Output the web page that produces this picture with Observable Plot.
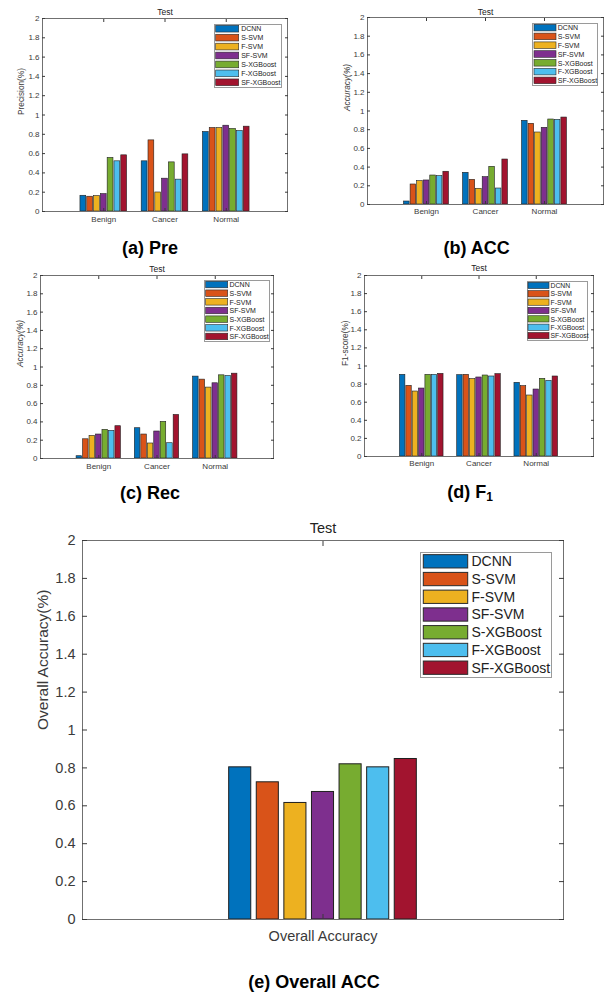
<!DOCTYPE html>
<html><head><meta charset="utf-8">
<script src="https://cdn.jsdelivr.net/npm/d3@7"></script>
<script src="https://cdn.jsdelivr.net/npm/@observablehq/plot@0.6"></script>
<style>
body{margin:0;background:#fff;}
#fig{position:relative;width:606px;height:994px;font-family:"Liberation Sans",Arial,sans-serif;background:#fff;}
#fig svg{position:absolute;}
.cap{position:absolute;font-weight:bold;font-size:18px;transform:translate(-50%,-50%);white-space:nowrap;color:#000;line-height:1;}
.cap sub{font-size:12px;vertical-align:-3px;}
</style></head><body><div id="fig"></div>
<script>
// ---- data ----
const models = ["DCNN","S-SVM","F-SVM","SF-SVM","S-XGBoost","F-XGBoost","SF-XGBoost"];
const modelColors = ["#0072BD","#D95319","#EDB120","#7E2F8E","#77AC30","#4DBEEE","#A2142F"];
const classes = ["Benign","Cancer","Normal"];
const overallCategory = ["Overall Accuracy"];
const yTicks = [0,0.2,0.4,0.6,0.8,1,1.2,1.4,1.6,1.8,2];
// rows: Benign, Cancer, Normal; columns: models
const precision = [
  [0.163,0.153,0.160,0.180,0.555,0.520,0.582],
  [0.520,0.737,0.197,0.340,0.509,0.330,0.592],
  [0.824,0.865,0.865,0.889,0.855,0.834,0.879]];
const accuracy = [
  [0.032,0.214,0.250,0.257,0.310,0.303,0.350],
  [0.339,0.264,0.168,0.292,0.403,0.171,0.481],
  [0.895,0.863,0.770,0.820,0.909,0.905,0.930]];
const recall = [
  [0.025,0.210,0.247,0.262,0.313,0.302,0.353],
  [0.331,0.262,0.164,0.295,0.400,0.167,0.476],
  [0.895,0.862,0.775,0.822,0.909,0.902,0.927]];
const f1score = [
  [0.902,0.781,0.718,0.751,0.902,0.902,0.913],
  [0.899,0.902,0.855,0.873,0.895,0.884,0.910],
  [0.814,0.777,0.674,0.740,0.858,0.836,0.884]];
const overall = [0.803,0.724,0.615,0.673,0.819,0.803,0.847];

// ---- drawing ----
const FONT = '"Liberation Sans", Arial, Helvetica, sans-serif';
const fig = document.getElementById("fig");
const key = (c, m) => c + "|" + m;

function panel(o) {
  const cats = o.cats;
  const domain = cats.flatMap((c, i) => [...(i ? ["gap" + i + "a", "gap" + i + "b"] : []), ...models.map(m => key(c, m))]);
  const rows = o.values.flatMap((arr, ci) => arr.map((v, mi) => ({key: key(cats[ci], models[mi]), model: models[mi], value: v})));
  const tickKeys = cats.map(c => key(c, models[3]));
  const svg = Plot.plot({
    width: o.w, height: o.h,
    marginLeft: o.mL, marginRight: o.mR, marginTop: o.mT, marginBottom: o.mB,
    style: {fontFamily: FONT, fontSize: o.fs + "px", color: "#3a3a3a", background: "transparent", overflow: "visible"},
    x: {type: "band", domain, paddingInner: o.pi, paddingOuter: o.po, round: false},
    y: {domain: [0, 2]},
    color: {domain: models, range: modelColors},
    marks: [
      Plot.barY(rows, {x: "key", y: "value", fill: "model", stroke: "#1f1f1f", strokeWidth: o.sw}),
      Plot.ruleY([0], {stroke: "#262626"}),
      Plot.frame({stroke: "#707070"}),
      Plot.axisY({anchor: "left", ticks: yTicks, tickFormat: d3.format("~g"), tickSize: o.ts, dx: o.ts, tickPadding: o.tp, label: null}),
      Plot.axisY({anchor: "right", ticks: yTicks, tickFormat: () => "", tickSize: o.ts, dx: -o.ts, label: null}),
      Plot.axisX({anchor: "bottom", ticks: tickKeys, tickFormat: k => k.split("|")[0], tickSize: o.ts, dy: -o.ts, tickPadding: o.xtp, label: null}),
      Plot.axisX({anchor: "top", ticks: tickKeys, tickFormat: () => "", tickSize: o.ts, dy: o.ts, label: null}),
      Plot.text(["Test"], {frameAnchor: "top", lineAnchor: "middle", text: d => d, dy: o.titleDy, fontSize: o.titleFs, fill: "#222"}),
      Plot.text([o.ylabel], {frameAnchor: "left", lineAnchor: "middle", text: d => d, rotate: -90, dx: o.ylDx, fontSize: o.ylFs, fontStyle: o.ylStyle || "normal"})
    ]
  });
  svg.style.left = o.left + "px";
  svg.style.top = o.top + "px";
  fig.appendChild(svg);
}

function legend(o) {
  const svg = Plot.plot({
    width: o.w, height: o.h, margin: 0,
    style: {fontFamily: FONT, fontSize: o.fs + "px", color: "#222", background: "transparent", overflow: "visible"},
    y: {type: "band", domain: models, paddingInner: 0.25, paddingOuter: 0.15, round: false, axis: null},
    color: {domain: models, range: modelColors},
    marks: [
      Plot.frame({fill: "white", stroke: "#9a9a9a"}),
      Plot.cell(models, {y: d => d, fill: d => d, stroke: "#2a2a2a", strokeWidth: o.sw, insetLeft: o.sl, insetRight: o.w - o.sl - o.swid}),
      Plot.text(models, {y: d => d, text: d => d, frameAnchor: "left", textAnchor: "start", dx: o.tx, fill: "#222"})
    ]
  });
  svg.style.left = o.left + "px";
  svg.style.top = o.top + "px";
  fig.appendChild(svg);
}

const small = {cats: classes, pi: 0.15, po: 5.575, fs: 8, ts: 3, tp: 3, sw: 0.6, titleFs: 8.5, ylFs: 8.3};
panel({...small, values: precision, ylabel: "Precision(%)", left: 0, top: 0, w: 300, h: 232, mL: 42, mR: 13, mT: 18, mB: 21, xtp: 5, titleDy: -6.3, ylDx: -21.3});
panel({...small, values: accuracy, ylabel: "Accuracy(%)", ylStyle: "italic", left: 300, top: 0, w: 306, h: 228, mL: 67, mR: 3, mT: 17, mB: 24, xtp: 4, titleDy: -5.3, ylDx: -20.3});
panel({...small, values: recall, ylabel: "Accuracy(%)", ylStyle: "italic", left: 0, top: 255, w: 300, h: 225, mL: 40, mR: 27, mT: 20, mB: 22, xtp: 4.5, titleDy: -6, ylDx: -20});
panel({...small, values: f1score, ylabel: "F1-score(%)", left: 300, top: 255, w: 306, h: 225, mL: 64, mR: 13, mT: 20, mB: 24, xtp: 4, titleDy: -7, ylDx: -19});
panel({cats: overallCategory, values: [overall], ylabel: "Overall Accuracy(%)", pi: 0.2, po: 5.315, fs: 14.5, ts: 5, tp: 7, sw: 1, titleFs: 14.5, ylFs: 15.5,
  left: 0, top: 510, w: 606, h: 440, mL: 82, mR: 43, mT: 30, mB: 31, xtp: 11, titleDy: -12, ylDx: -39});

legend({left: 214, top: 24, w: 67, h: 63, fs: 7, sw: 0.6, sl: 1.7, swid: 23, tx: 26.7});
legend({left: 532, top: 23, w: 65, h: 62, fs: 7, sw: 0.6, sl: 2, swid: 22, tx: 25.3});
legend({left: 204, top: 280, w: 65, h: 61, fs: 7, sw: 0.6, sl: 1.7, swid: 22, tx: 25});
legend({left: 527, top: 281, w: 60, h: 59, fs: 6.8, sw: 0.6, sl: 1, swid: 21, tx: 23});
legend({left: 420, top: 552, w: 131, h: 125, fs: 14, sw: 1, sl: 3.3, swid: 44.4, tx: 51});

const captions = [
  {html: "(a) Pre", x: 150, y: 248},
  {html: "(b) ACC", x: 476.7, y: 248},
  {html: "(c) Rec", x: 150, y: 493},
  {html: "(d) F<sub>1</sub>", x: 470, y: 493},
  {html: "(e) Overall ACC", x: 314, y: 982}
];
for (const c of captions) {
  const d = document.createElement("div");
  d.className = "cap";
  d.innerHTML = c.html;
  d.style.left = c.x + "px";
  d.style.top = c.y + "px";
  fig.appendChild(d);
}
</script></body></html>
